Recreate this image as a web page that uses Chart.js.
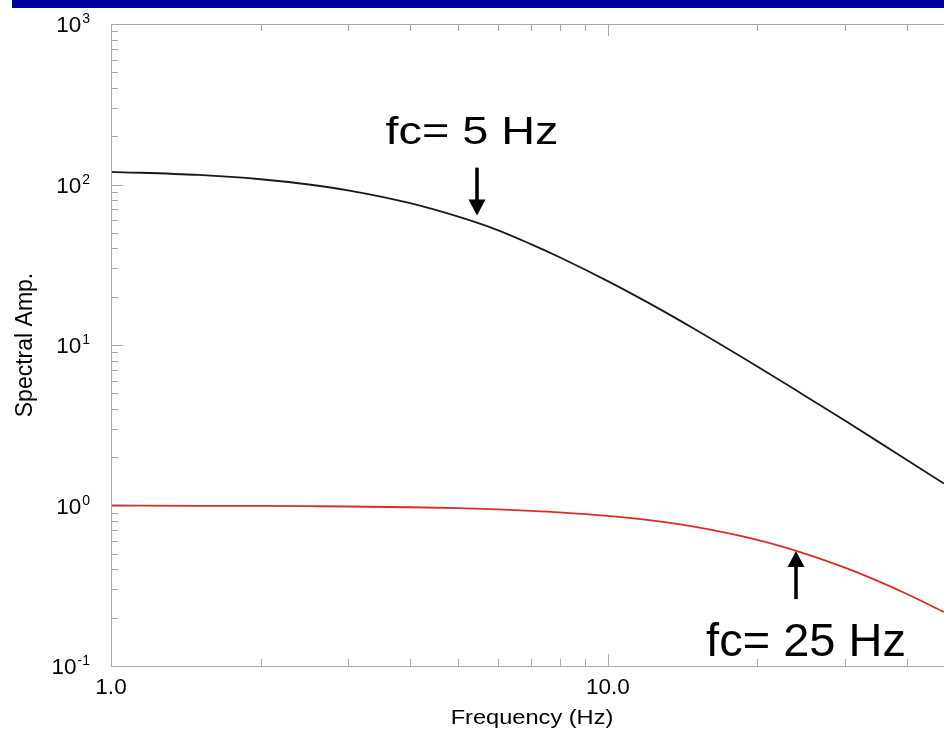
<!DOCTYPE html>
<html>
<head>
<meta charset="utf-8">
<script src="https://cdn.jsdelivr.net/npm/chart.js@4/dist/chart.umd.min.js"></script>
<style>
  html, body { margin: 0; padding: 0; background: #fff; overflow: hidden; }
  canvas { display: block; }
</style>
</head>
<body>
<canvas id="myChart" width="944" height="729"></canvas>
<script>
// values
const freqs = [1, 1.5, 2, 2.5, 3, 4, 5, 6, 7, 8, 10, 12, 15, 20, 25, 30, 35, 40, 47.5];
const ampFc5 = [120, 114.7, 107.8, 100, 92, 76.5, 63, 52, 42.5, 35.2, 25, 18.5, 12.5, 7.35, 4.8, 3.38, 2.5, 1.92, 1.37];
const ampFc25 = [1.0, 0.996, 0.994, 0.99, 0.986, 0.975, 0.962, 0.946, 0.927, 0.907, 0.862, 0.813, 0.735, 0.61, 0.5, 0.41, 0.338, 0.281, 0.217];

const yTickValues = [0.1, 1, 10, 100, 1000];
const yTickExponents = ['-1', '0', '1', '2', '3'];
const xTickValues = [1, 10];
const xTickLabels = ['1.0', '10.0'];

const arrowFreqs = [5.45, 23.9];
const arrowAmps = [64, 0.52];
const arrowDirs = ['down', 'up'];
const arrowLabels = ['fc= 5 Hz', 'fc= 25 Hz'];

const FONT = "'Liberation Sans', Arial, Helvetica, sans-serif";
const AXIS_GREY = '#a8a8a8';

function drawText(ctx, text, x, y, size, align, scaleX) {
    ctx.save();
    ctx.font = size + 'px ' + FONT;
    ctx.textAlign = align;
    ctx.textBaseline = 'alphabetic';
    ctx.translate(x, y);
    ctx.scale(scaleX || 1, 1);
    ctx.fillText(text, 0, 0);
    ctx.restore();
}

function isWholeMantissa(v) {
    const m = v / Math.pow(10, Math.floor(Math.log10(v) + 1e-9));
    return Math.abs(m - Math.round(m)) < 1e-6;
}
function isDecade(v) {
    const l = Math.log10(v);
    return Math.abs(l - Math.round(l)) < 1e-6;
}

const framePlugin = {
    id: 'frame',
    afterDraw(chart) {
        const { ctx, chartArea: a, scales: { x, y } } = chart;
        ctx.save();

        // frame lines
        ctx.strokeStyle = AXIS_GREY;
        ctx.lineWidth = 1;
        ctx.beginPath();
        ctx.moveTo(a.left + 0.5, a.top + 0.5);
        ctx.lineTo(a.left + 0.5, a.bottom + 0.5);
        ctx.lineTo(a.right, a.bottom + 0.5);
        ctx.moveTo(a.left + 0.5, a.top + 0.5);
        ctx.lineTo(a.right, a.top + 0.5);
        ctx.stroke();

        // inward ticks
        ctx.beginPath();
        y.ticks.forEach(t => {
            if (!isWholeMantissa(t.value)) return;
            const py = Math.round(y.getPixelForValue(t.value)) + 0.5;
            const len = isDecade(t.value) ? 12 : 7;
            ctx.moveTo(a.left, py);
            ctx.lineTo(a.left + len, py);
        });
        x.ticks.forEach(t => {
            if (!isWholeMantissa(t.value)) return;
            const px = Math.round(x.getPixelForValue(t.value)) + 0.5;
            const len = isDecade(t.value) ? 12 : 7;
            ctx.moveTo(px, a.bottom);
            ctx.lineTo(px, a.bottom - len);
            ctx.moveTo(px, a.top);
            ctx.lineTo(px, a.top + len);
        });
        ctx.stroke();

        // y tick labels with superscript exponents
        ctx.fillStyle = '#000';
        yTickValues.forEach((v, i) => {
            const py = y.getPixelForValue(v);
            ctx.font = '14px ' + FONT;
            const expW = ctx.measureText(yTickExponents[i]).width;
            drawText(ctx, yTickExponents[i], 90, py - 1, 14, 'right');
            drawText(ctx, '10', 90 - expW - 1, py + 8, 22.5, 'right');
        });

        // x tick labels
        xTickValues.forEach((v, i) => {
            drawText(ctx, xTickLabels[i], x.getPixelForValue(v), a.bottom + 28, 22.5, 'center');
        });

        // axis titles
        drawText(ctx, 'Frequency (Hz)', 532, 724, 20, 'center', 1.18);
        ctx.save();
        ctx.translate(32, 345);
        ctx.rotate(-Math.PI / 2);
        drawText(ctx, 'Spectral Amp.', 0, 0, 23, 'center');
        ctx.restore();

        // corner-frequency arrows and labels
        arrowFreqs.forEach((f, i) => {
            const px = Math.round(x.getPixelForValue(f));
            const py = y.getPixelForValue(arrowAmps[i]);
            const s = arrowDirs[i] === 'down' ? -1 : 1; // shaft direction from tip
            ctx.strokeStyle = '#000';
            ctx.lineWidth = 3.5;
            ctx.beginPath();
            ctx.moveTo(px, py + s * 12);
            ctx.lineTo(px, py + s * 48);
            ctx.stroke();
            ctx.fillStyle = '#000';
            ctx.beginPath();
            ctx.moveTo(px, py);
            ctx.lineTo(px - 8.5, py + s * 16);
            ctx.lineTo(px + 8.5, py + s * 16);
            ctx.closePath();
            ctx.fill();
            if (s < 0) {
                drawText(ctx, arrowLabels[i], px - 5, py - 72, 39, 'center', 1.2);
            } else {
                drawText(ctx, arrowLabels[i], px + 10, py + 105, 47, 'center', 1.0);
            }
        });

        // dark blue band at the top
        ctx.fillStyle = '#000099';
        ctx.fillRect(12, 0, chart.width - 12, 8);

        ctx.restore();
    }
};

const ctx = document.getElementById('myChart').getContext('2d');
new Chart(ctx, {
    type: 'line',
    data: {
        labels: freqs,
        datasets: [
            {
                data: freqs.map((f, i) => ({ x: f, y: ampFc5[i] })),
                borderColor: '#1a1a1a',
                borderWidth: 1.8,
                pointRadius: 0,
                cubicInterpolationMode: 'monotone',
                fill: false
            },
            {
                data: freqs.map((f, i) => ({ x: f, y: ampFc25[i] })),
                borderColor: '#dc2b2b',
                borderWidth: 1.8,
                pointRadius: 0,
                cubicInterpolationMode: 'monotone',
                fill: false
            }
        ]
    },
    options: {
        responsive: false,
        animation: false,
        // the hidden scales still reserve 8px each, so padding is trimmed by that
        layout: { padding: { left: 103, top: 24, right: 0, bottom: 55 } },
        plugins: {
            legend: { display: false },
            title: { display: false },
            tooltip: { enabled: false }
        },
        scales: {
            x: {
                type: 'logarithmic',
                min: 1,
                max: 47.5,
                grid: { display: false },
                border: { display: false },
                ticks: { display: false }
            },
            y: {
                type: 'logarithmic',
                min: 0.1,
                max: 1000,
                grid: { display: false },
                border: { display: false },
                ticks: { display: false }
            }
        }
    },
    plugins: [framePlugin]
});
</script>
</body>
</html>
